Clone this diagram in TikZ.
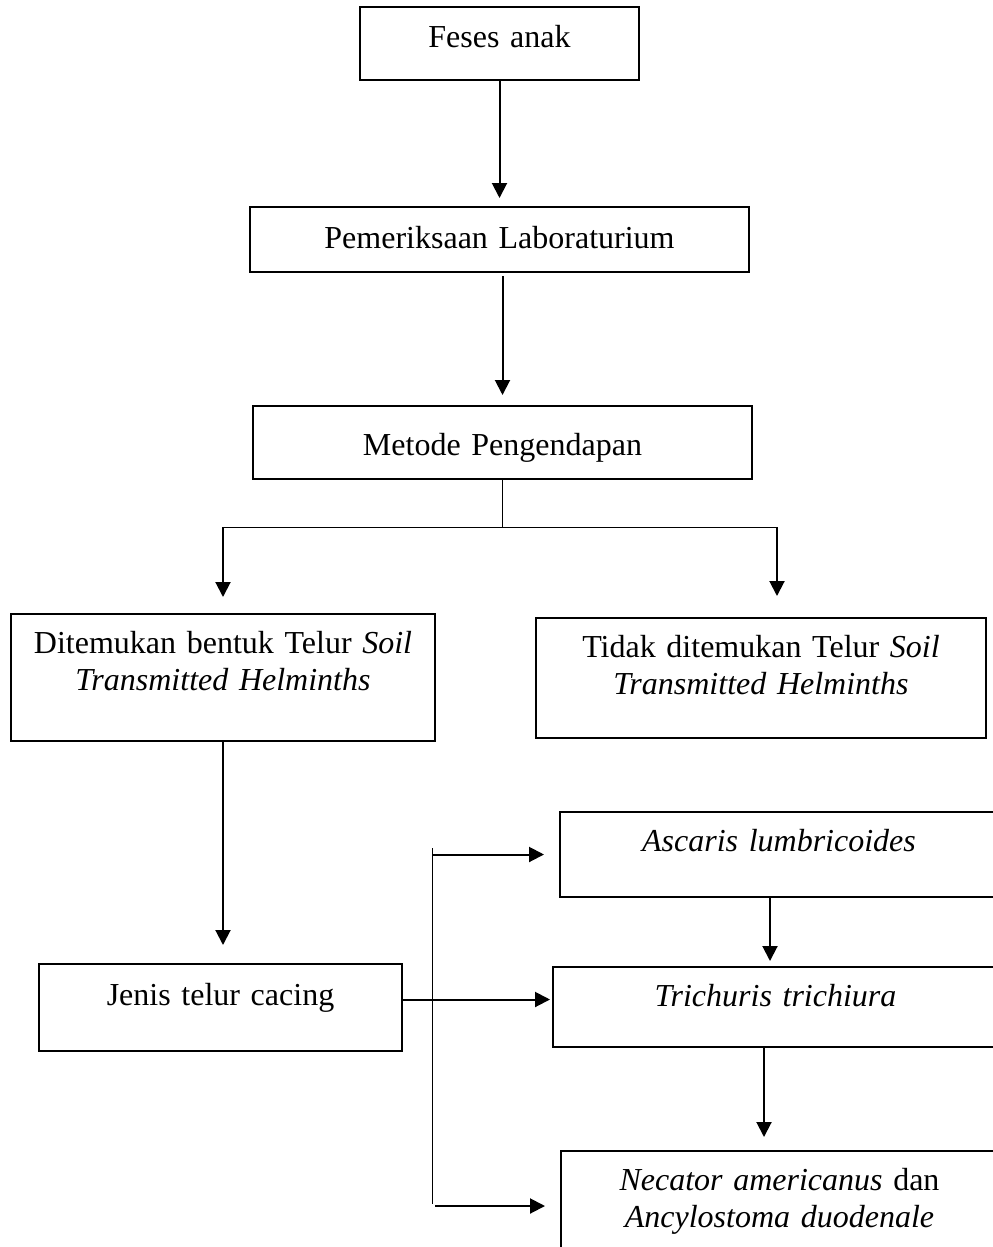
\documentclass[tikz,border=0pt]{standalone}
\usepackage{fontspec}
\setmainfont{Liberation Serif}
\usetikzlibrary{arrows.meta}

\begin{document}
\begin{tikzpicture}[x=0.5pt,y=-0.5pt,
  box/.style={draw, line width=1pt, anchor=base, align=center, inner xsep=0pt, inner ysep=0pt, font=\fontsize{16}{18.5}\selectfont},
  arr/.style={-{Triangle[length=7.5pt,width=7.5pt]}, line width=1pt},
  thinline/.style={line width=0.5pt}]
\useasboundingbox (0,0) rectangle (992,1247);
\node[box, text width=139.5pt, text height=20.5pt, text depth=16pt] (v0) at (499.5,48) {Feses anak};
\node[box, text width=249.5pt, text height=20.5pt, text depth=12pt] (v1) at (499.5,248) {Pemeriksaan Laboraturium};
\node[box, text width=249.5pt, text height=24.5pt, text depth=12pt] (v2) at (502.5,455) {Metode Pengendapan};
\node[box, text width=212pt, text height=19.5pt, text depth=44pt] (v3) at (223,653) {Ditemukan bentuk Telur \textit{Soil}\\\textit{Transmitted Helminths}};
\node[box, text width=225pt, text height=19.5pt, text depth=40.5pt] (v4) at (761,657) {Tidak ditemukan Telur \textit{Soil}\\\textit{Transmitted Helminths}};
\node[box, text width=181.5pt, text height=20.5pt, text depth=23pt] (v5) at (220.5,1005) {Jenis telur cacing};
\node[box, text width=219pt, text height=19.5pt, text depth=23pt] (v6) at (779,851) {\textit{Ascaris lumbricoides}};
\node[box, text width=222.5pt, text height=19.5pt, text depth=20.5pt] (v7) at (775.5,1006) {\textit{Trichuris trichiura}};
\node[box, text width=218.5pt, text height=19.5pt, text depth=35pt] (v8) at (779.5,1190) {\textit{Necator americanus} dan\\\textit{Ancylostoma duodenale}};
\coordinate (b1) at (223,527);
\coordinate (b2) at (777,527);
\coordinate (t0) at (432,848);
\coordinate (t1) at (432,1204);
\coordinate (t2) at (435,1206);
\draw [arr,shorten >=4pt] (v0) -- (v1);
\draw [arr,shorten <=1.5pt,shorten >=5pt] (v1.south -| v2.north) -- (v2.north);
\draw [thinline] (v2.south) -- (v2.south |- b1);
\draw [thinline] (b1) -- (b2);
\draw [arr,shorten >=8pt] (b1) -- (b1 |- v3.north);
\draw [arr,shorten >=10.5pt] (b2) -- (b2 |- v4.north);
\draw [arr,shorten >=9pt] (v3.south) -- (v3.south |- v5.north);
\draw [arr,shorten >=1pt] ([yshift=4pt]v5.east) -- ([yshift=4pt]v5.east -| v7.west);
\draw [thinline] (t0) -- (t1);
\draw [arr,shorten >=7.5pt] (t0 |- v6.west) -- (v6.west);
\draw [arr,shorten >=7.5pt] (t2) -- (t2 -| v8.west);
\draw [arr,shorten >=2.5pt] ([xshift=-4.5pt]v6.south) -- ([xshift=-4.5pt]v6.south |- v7.north);
\draw [arr,shorten >=6.5pt] ([xshift=-5.75pt]v7.south) -- ([xshift=-5.75pt]v7.south |- v8.north);
\end{tikzpicture}
\end{document}
